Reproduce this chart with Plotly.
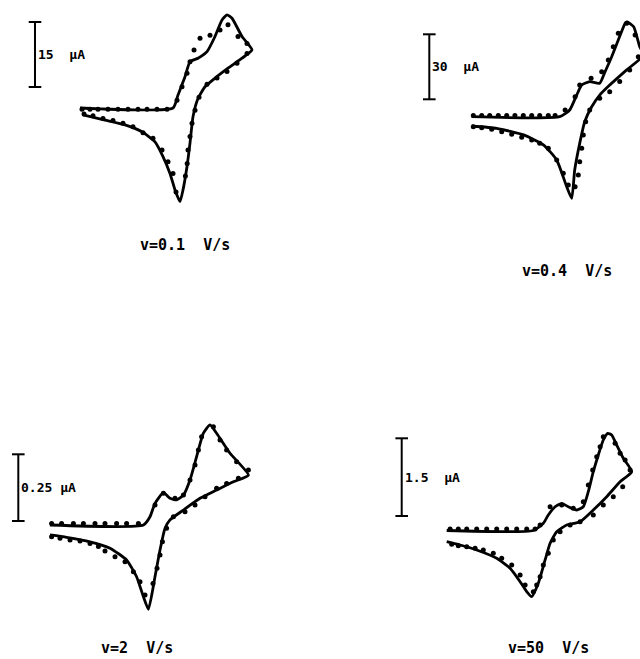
import plotly.graph_objects as go

# ---------------- data (E in V, I in uA) ----------------
# Panel 1: v = 0.1 V/s
p1_line_E = [0.0, 0.465, 0.49, 0.525, 0.55, 0.59, 0.635, 0.675, 0.71, 0.735, 0.76, 0.81, 0.86,
             0.81, 0.74, 0.675, 0.625, 0.59, 0.565, 0.55, 0.535, 0.515, 0.5, 0.475, 0.45, 0.415,
             0.375, 0.31, 0.225, 0.125, 0.015]
p1_line_I = [0.0, 0.0, 3.0, 7.2, 10.7, 11.5, 13.0, 16.5, 20.3, 21.5, 20.7, 16.5, 13.4,
             11.5, 9.2, 6.9, 4.9, 2.2, -2.0, -8.1, -13.5, -18.9, -21.6, -18.9, -15.1, -11.2,
             -7.8, -5.5, -3.9, -2.8, -1.6]
p1_dot_E = [0.01, 0.05, 0.09, 0.14, 0.19, 0.24, 0.29, 0.335, 0.385, 0.435,
            0.485, 0.51, 0.535, 0.55, 0.57, 0.6, 0.65, 0.7, 0.74, 0.79, 0.835, 0.835,
            0.785, 0.735, 0.685, 0.635, 0.595, 0.575, 0.56, 0.55, 0.54, 0.536, 0.527, 0.48,
            0.465, 0.44, 0.41, 0.365, 0.315, 0.265, 0.215, 0.165, 0.115, 0.065, 0.02]
p1_dot_I = [-0.3] * 10 + [1.8, 4.9, 8.0, 10.7, 13.4, 16.1, 16.8, 18.0, 19.2, 16.5, 14.9, 12.6,
            10.3, 8.4, 6.9, 5.5, 2.5, -0.5, -3.5, -6.6, -9.7, -12.8, -15.7, -19.4,
            -15.1, -12.4, -9.7, -7.0, -5.7, -4.3, -3.5, -2.9, -2.4, -1.8, -1.4]

# Panel 2: v = 0.4 V/s
p2_line_E = [0.0, 0.44, 0.49, 0.525, 0.55, 0.59, 0.64, 0.667, 0.70, 0.733, 0.767, 0.777, 0.81, 0.84,
             0.86,
             0.775, 0.69, 0.64, 0.6, 0.565, 0.54, 0.515, 0.5, 0.475, 0.425, 0.36, 0.26, 0.125, 0.0]
p2_line_I = [0.0, 0.0, 3.1, 10.0, 14.6, 16.2, 15.4, 20.8, 27.7, 35.4, 43.1, 43.8, 41.5, 32.3,
             28.5,
             21.6, 14.6, 10.0, 4.6, -2.3, -12.3, -24.6, -37.7, -32.3, -20.0, -13.1, -8.4, -5.4, -4.3]
p2_dot_E = [0.008, 0.05, 0.09, 0.133, 0.175, 0.216, 0.258, 0.3, 0.34, 0.383, 0.417,
            0.467, 0.517, 0.54, 0.597, 0.65, 0.683, 0.708, 0.733, 0.775, 0.817,
            0.833, 0.79, 0.74, 0.69, 0.64, 0.59, 0.57, 0.558, 0.55, 0.54, 0.533, 0.517,
            0.483, 0.458, 0.425, 0.383, 0.34, 0.3, 0.25, 0.2, 0.15, 0.1, 0.05, 0.008]
p2_dot_I = [0.5] * 11 + [3.1, 9.2, 14.6, 17.7, 20.8, 26.2, 32.3, 38.5, 43.1, 37.7,
            27.7, 21.6, 16.2, 11.5, 8.5, 3.1, -2.3, -8.4, -14.6, -20.8, -26.9, -32.3,
            -31.5, -26.1, -20.0, -14.6, -12.3, -10.8, -9.5, -8.1, -6.9, -5.8, -5.1, -4.6]

# Panel 3: v = 2 V/s
p3_line_E = [0.0, 0.467, 0.5, 0.525, 0.567, 0.6, 0.633, 0.667, 0.7, 0.733, 0.767, 0.8, 0.833, 0.9, 0.992,
             0.917, 0.833, 0.75, 0.667, 0.6, 0.575, 0.55, 0.525, 0.492, 0.467, 0.433, 0.383,
             0.3, 0.2, 0.083, 0.0]
p3_line_I = [0.0, 0.0, 0.031, 0.081, 0.121, 0.100, 0.094, 0.112, 0.169, 0.256, 0.344, 0.375, 0.344,
             0.269, 0.187,
             0.162, 0.131, 0.100, 0.056, 0.019, -0.012, -0.094, -0.194, -0.316, -0.269, -0.194,
             -0.131, -0.087, -0.063, -0.046, -0.037]
p3_dot_E = [0.008, 0.058, 0.117, 0.167, 0.225, 0.275, 0.333, 0.383, 0.442,
            0.525, 0.567, 0.625, 0.667, 0.7, 0.725, 0.742, 0.758, 0.817, 0.85, 0.883, 0.933, 0.992,
            0.942, 0.883, 0.833, 0.775, 0.725, 0.675, 0.617, 0.583, 0.562, 0.55, 0.535, 0.515,
            0.475, 0.45, 0.417, 0.375, 0.325, 0.275, 0.242, 0.2, 0.15, 0.1, 0.05, 0.008]
p3_dot_I = [0.006] * 9 + [0.075, 0.119, 0.100, 0.112, 0.169, 0.225, 0.281, 0.331, 0.368, 0.319,
            0.281, 0.237, 0.206,
            0.175, 0.156, 0.138, 0.106, 0.075, 0.050, 0.031, -0.012, -0.063, -0.112, -0.162,
            -0.219, -0.262, -0.213, -0.175, -0.138, -0.119, -0.097, -0.081, -0.069, -0.060,
            -0.056, -0.050, -0.044]

# Panel 4: v = 50 V/s
p4_line_E = [0.0, 0.433, 0.483, 0.508, 0.542, 0.575, 0.608, 0.65, 0.683, 0.708, 0.733, 0.758, 0.783,
             0.805, 0.825, 0.85, 0.883, 0.925,
             0.867, 0.8, 0.733, 0.667, 0.6, 0.55, 0.517, 0.492, 0.458, 0.425, 0.4, 0.367, 0.317,
             0.25, 0.15, 0.067, 0.0]
p4_line_I = [0.0, 0.0, 0.139, 0.299, 0.459, 0.525, 0.459, 0.396, 0.459, 0.749, 1.135, 1.458, 1.747,
             1.876, 1.844, 1.650, 1.394, 1.135,
             0.942, 0.653, 0.396, 0.170, 0.106, -0.023, -0.247, -0.569, -1.019, -1.278, -1.181,
             -0.988, -0.730, -0.537, -0.376, -0.280, -0.216]
p4_dot_E = [0.017, 0.058, 0.1, 0.15, 0.2, 0.25, 0.3, 0.35, 0.4, 0.442,
            0.467, 0.517, 0.575, 0.633, 0.683, 0.708, 0.73, 0.75, 0.767, 0.783, 0.842, 0.867,
            0.892, 0.917,
            0.88, 0.833, 0.783, 0.733, 0.667, 0.617, 0.567, 0.533, 0.508, 0.483, 0.467, 0.45,
            0.433, 0.392, 0.367, 0.325, 0.275, 0.233, 0.183, 0.142, 0.1, 0.058, 0.025]
p4_dot_I = [0.029] * 10 + [0.106, 0.459, 0.492, 0.429, 0.556, 0.878, 1.168, 1.425, 1.618, 1.811,
            1.683, 1.490, 1.361, 1.168,
            0.846, 0.653, 0.492, 0.299, 0.170, 0.106, -0.023, -0.183, -0.440, -0.666, -0.892,
            -1.052, -1.181, -1.052, -0.859, -0.666, -0.537, -0.440, -0.376, -0.344, -0.313,
            -0.293, -0.266]

scale_values = [15, 30, 0.25, 1.5]
scale_labels = ["15  µA", "30  µA", "0.25 µA", "1.5  µA"]
captions = ["v=0.1  V/s", "v=0.4  V/s", "v=2  V/s", "v=50  V/s"]

panels = [
    (p1_line_E, p1_line_I, p1_dot_E, p1_dot_I),
    (p2_line_E, p2_line_I, p2_dot_E, p2_dot_I),
    (p3_line_E, p3_line_I, p3_dot_E, p3_dot_I),
    (p4_line_E, p4_line_I, p4_dot_E, p4_dot_I),
]

# ---------------- layout (pixel placement of each panel) ----------------
W, H = 640, 659
V_PER_PX = 0.005
# x0: pixel of E=0 ; yb: pixel of I=0 ; s: pixels per uA
geom = [
    dict(x0=80.0, yb=108.0, s=65 / 15),
    dict(x0=471.7, yb=116.7, s=65 / 30),
    dict(x0=50.0, yb=525.0, s=66.7 / 0.25),
    dict(x0=446.7, yb=530.5, s=77.7 / 1.5),
]
# scale-bar placement (pixels): x, bottom y
bar_pos = [(35, 87), (429.3, 99.3), (18.3, 521), (401.7, 516)]
# caption placement (pixels): centre x, y
cap_pos = [(185, 245), (567, 271), (137, 648), (548, 648)]

fig = go.Figure()
annotations = []
FONT = "DejaVu Sans Mono"

for i, (lE, lI, dE, dI) in enumerate(panels):
    g = geom[i]
    xa = "x" if i == 0 else f"x{i+1}"
    ya = "y" if i == 0 else f"y{i+1}"

    def px_to_E(px, g=g):
        return (px - g["x0"]) * V_PER_PX

    def px_to_I(py, g=g):
        return (g["yb"] - py) / g["s"]

    fig.add_trace(go.Scatter(x=lE, y=lI, mode="lines", xaxis=xa, yaxis=ya,
                             line=dict(color="black", width=2.8, shape="spline", smoothing=0.5),
                             hoverinfo="skip", showlegend=False))
    fig.add_trace(go.Scatter(x=dE, y=dI, mode="markers", xaxis=xa, yaxis=ya,
                             marker=dict(color="black", size=5),
                             hoverinfo="skip", showlegend=False))
    # scale bar
    bx, bby = bar_pos[i]
    bE = px_to_E(bx)
    bI = px_to_I(bby)
    fig.add_trace(go.Scatter(x=[bE, bE], y=[bI, bI + scale_values[i]], mode="lines+markers",
                             xaxis=xa, yaxis=ya,
                             line=dict(color="black", width=2),
                             marker=dict(symbol="line-ew-open", size=9,
                                         line=dict(color="black", width=2)),
                             hoverinfo="skip", showlegend=False))
    annotations.append(dict(x=bE + 1 * V_PER_PX, y=bI + scale_values[i] / 2, xref=xa, yref=ya,
                            text=f"<b>{scale_labels[i]}</b>", showarrow=False,
                            xanchor="left", yanchor="middle",
                            font=dict(family=FONT, size=13, color="black")))
    cx, cy = cap_pos[i]
    annotations.append(dict(x=px_to_E(cx), y=px_to_I(cy), xref=xa, yref=ya,
                            text=f"<b>{captions[i]}</b>", showarrow=False,
                            xanchor="center", yanchor="middle",
                            font=dict(family=FONT, size=15, color="black")))

    axis_common = dict(visible=False, showgrid=False, zeroline=False, domain=[0, 1], fixedrange=True)
    fig.layout[("xaxis" if i == 0 else f"xaxis{i+1}")] = dict(
        range=[px_to_E(0), px_to_E(W)], anchor=ya, **axis_common)
    fig.layout[("yaxis" if i == 0 else f"yaxis{i+1}")] = dict(
        range=[px_to_I(H), px_to_I(0)], anchor=xa, **axis_common)

fig.update_layout(width=W, height=H, margin=dict(l=0, r=0, t=0, b=0),
                  paper_bgcolor="white", plot_bgcolor="rgba(0,0,0,0)",
                  annotations=annotations, showlegend=False)

fig.write_html("out.html", config={"displayModeBar": False},
               post_script="document.body.style.margin='0';document.body.style.overflow='hidden';")
